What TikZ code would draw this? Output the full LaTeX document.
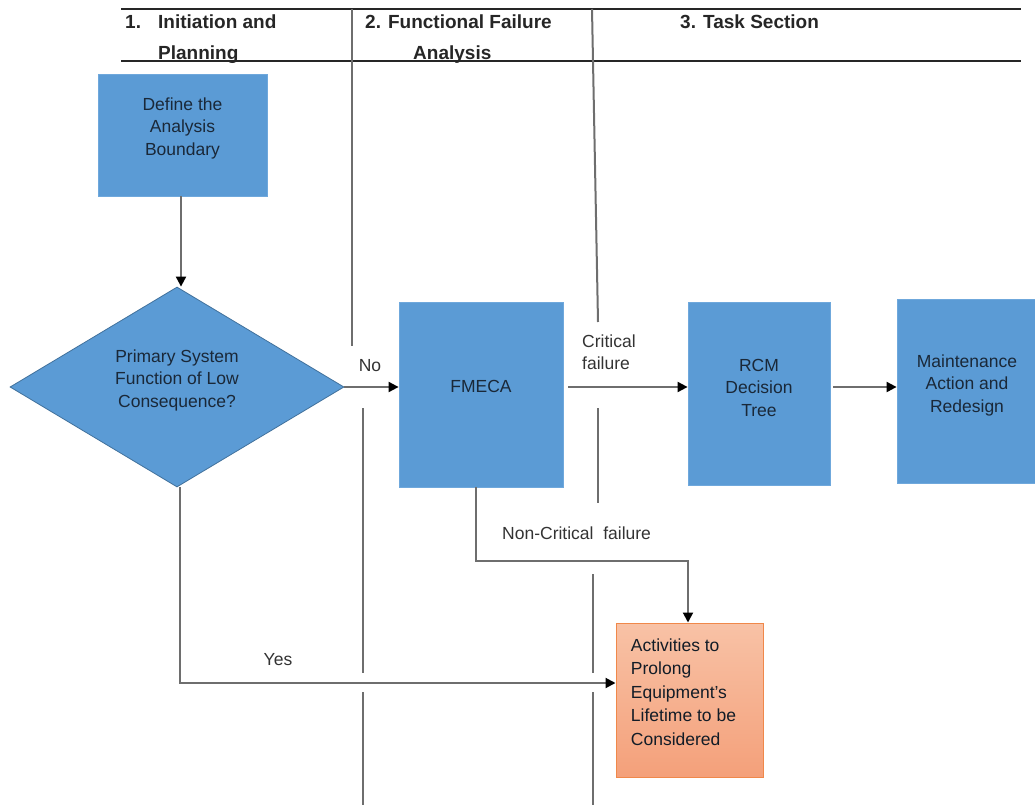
\documentclass[tikz,border=0pt]{standalone}
\usepackage{fontspec}
\setmainfont{Liberation Sans}
\usetikzlibrary{arrows.meta,shapes.geometric}
\definecolor{boxblue}{HTML}{5B9BD5}
\definecolor{boxedge}{HTML}{6FA8DC}
\definecolor{diaedge}{HTML}{41719C}
\definecolor{navytxt}{HTML}{1A2838}
\definecolor{orangetop}{HTML}{F8C2A6}
\definecolor{orangebot}{HTML}{F4A07A}
\definecolor{orangeedge}{HTML}{F0884A}
\definecolor{linegray}{HTML}{6E6E6E}
\definecolor{lbltxt}{HTML}{333333}
\begin{document}
\begin{tikzpicture}[x=1pt,y=-1pt,
  bluebox/.style={draw=boxedge,fill=boxblue,line width=0.8pt,inner sep=0pt},
  boxtxt/.style={font=\fontsize{17.5}{22.5}\selectfont,text=navytxt,align=center,yshift=7pt},
  orangebox/.style={draw=orangeedge,top color=orangetop,bottom color=orangebot,line width=1pt,inner sep=0pt},
  orangetxt/.style={font=\fontsize{17.5}{23.5}\selectfont,text=navytxt!70!black,align=left,yshift=8pt,xshift=-6pt},
  conn/.style={draw=linegray,line width=2pt,-{Triangle[length=10pt,width=10pt,black]}},
  divider/.style={draw=linegray,line width=2pt},
  headline/.style={draw=black!85,line width=2.6pt},
  headtxt/.style={font=\fontsize{19}{23}\selectfont\bfseries,text=black!85,anchor=base west,inner sep=0pt},
  lbl/.style={font=\fontsize{17.5}{22}\selectfont,text=lbltxt,inner sep=0pt}
]
\useasboundingbox (0,0) rectangle (1035,805);

% header
\draw[headline] (121,9) coordinate (h1) -- (1021,9) coordinate (h2);
\draw[headline] (121,61) coordinate (h3) -- (1021,61) coordinate (h4);
\node[headtxt] (t1n) at (125,28.5) {1.};
\node[headtxt] (t1a) at (158,28.5) {Initiation and};
\node[headtxt] (t1b) at (158,60) {Planning};
\node[headtxt] (t2a) at (365,28.5) {2. Functional Failure};
\node[headtxt] (t2b) at (413,60) {Analysis};
\node[headtxt] (t3) at (680,28.5) {3. Task Section};

% swimlane dividers
\draw[divider] (352,9) -- (352,346);
\draw[divider] (363,408) -- (363,673);
\draw[divider] (363,692) -- (363,805);
\draw[divider] (592,9) -- (598,322);
\draw[divider] (598,408) -- (598,503);
\draw[divider] (593,574) -- (593,673);
\draw[divider] (593,692) -- (593,805);

% nodes
\node[bluebox,minimum width=169pt,minimum height=122pt,
  label={[boxtxt]center:Define the\\Analysis\\Boundary}] (def) at (182.5,135) {};
\node[diamond,draw=diaedge,fill=boxblue,line width=0.8pt,inner sep=0pt,
  minimum width=334pt,minimum height=200pt,
  label={[boxtxt]center:Primary System\\Function of Low\\Consequence?}] (dia) at (177,387) {};
\node[bluebox,minimum width=164pt,minimum height=185pt,
  label={[boxtxt,yshift=1pt]center:FMECA}] (fmeca) at (481,394.5) {};
\node[bluebox,minimum width=142pt,minimum height=183pt,
  label={[boxtxt,yshift=-1pt]center:RCM\\Decision\\Tree}] (rcm) at (759,393.5) {};
\node[bluebox,minimum width=140pt,minimum height=184pt,
  label={[boxtxt,yshift=-1pt]center:Maintenance\\Action and\\Redesign}] (maint) at (967,391) {};
\node[orangebox,minimum width=147pt,minimum height=154pt,
  label={[orangetxt]center:Activities to\\Prolong\\Equipment's\\Lifetime to be\\Considered}] (act) at (689.5,700) {};

\coordinate (nc) at (688,561);
\coordinate (yes) at (0,683);

% connectors
\draw[conn] ([xshift=-1.5pt]def.south) -- ([xshift=-1.5pt]def.south |- dia.north);
\draw[conn] (dia.east) -- (dia.east -| fmeca.west);
\node[lbl] (nolbl) at (370,366) {No};
\draw[conn] ([xshift=5pt]dia.east -| fmeca.east) -- (dia.east -| rcm.west);
\node[lbl,align=left,anchor=west] (critlbl) at (582,352) {Critical\\failure};
\draw[conn] ([xshift=3pt]dia.east -| rcm.east) -- (dia.east -| maint.west);
\draw[conn] ([xshift=-5pt]fmeca.south) |- (nc) -- (nc |- act.north);
\node[lbl,anchor=west] (nclbl) at (502,533) {Non-Critical\ \ failure};
\draw[conn] ([xshift=3pt]dia.south) |- (yes -| act.west);
\node[lbl] (yeslbl) at (278,660) {Yes};
\end{tikzpicture}
\end{document}
